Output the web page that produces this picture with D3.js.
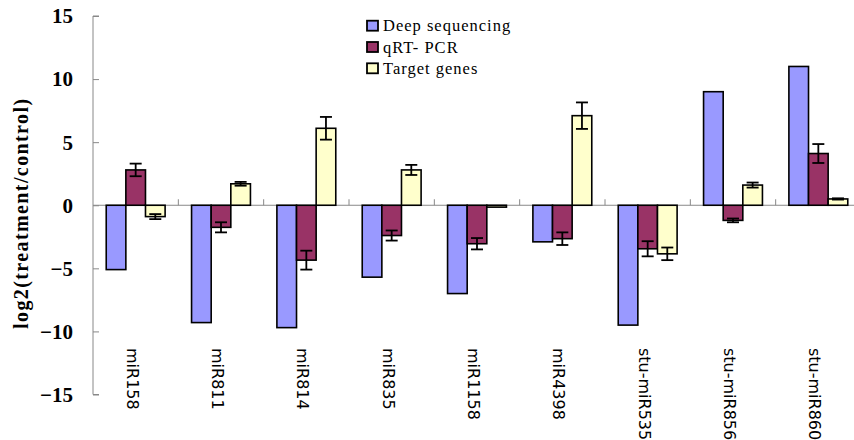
<!DOCTYPE html>
<html>
<head>
<meta charset="utf-8">
<script src="https://cdn.jsdelivr.net/npm/d3@7"></script>
<style>
	body { margin: 0; background: #fff; }
	svg { display: block; }
</style>
</head>
<body>
<svg id="chart" width="854" height="440"></svg>
<script>
const categories = ['miR158', 'miR811', 'miR814', 'miR835', 'miR1158', 'miR4398', 'stu-miR535', 'stu-miR856', 'stu-miR860']
const seriesNames = ['Deep sequencing', 'qRT- PCR', 'Target genes']
const deepSeq = [-5.1, -9.3, -9.7, -5.7, -7.0, -2.9, -9.5, 9.0, 11.0]
const qrtPcr = [2.8, -1.75, -4.35, -2.4, -3.05, -2.65, -3.45, -1.2, 4.1]
const qrtPcrErr = [0.5, 0.4, 0.75, 0.4, 0.45, 0.5, 0.6, 0.15, 0.75]
const targetGenes = [-0.9, 1.7, 6.1, 2.8, -0.15, 7.1, -3.85, 1.6, 0.5]
const targetErr = [0.2, 0.15, 0.9, 0.4, 0, 1.05, 0.5, 0.2, 0.05]
const yTicks = [-15, -10, -5, 0, 5, 10, 15]
const colors = ['#9999ff', '#993366', '#ffffcc']

const svg = d3.select('#chart')
const plotLeft = 93, plotRight = 861, plotTop = 16, plotBottom = 394.5

const x0 = d3.scaleBand().domain(categories).range([plotLeft, plotRight]).paddingInner(0.31).paddingOuter(0.155)
const x1 = d3.scaleBand().domain(seriesNames).range([0, x0.bandwidth()])
const y = d3.scaleLinear().domain([-15, 15]).range([plotBottom, plotTop])

const rows = categories.map((c, i) => ({
	cat: c,
	vals: [
		{ s: seriesNames[0], v: deepSeq[i], e: null },
		{ s: seriesNames[1], v: qrtPcr[i], e: qrtPcrErr[i] },
		{ s: seriesNames[2], v: targetGenes[i], e: targetErr[i] }
	]
}))

// y axis: ticks point into the plot
const yAxis = svg.append('g')
	.attr('transform', `translate(${plotLeft},0)`)
	.call(d3.axisRight(y).tickValues(yTicks).tickSize(6).tickFormat(''))
yAxis.select('.domain').attr('stroke', '#888').attr('d', `M6,${plotTop}H0V${plotBottom}H6`)
yAxis.selectAll('.tick line').attr('stroke', '#888')

svg.append('g').selectAll('text').data(yTicks).enter().append('text')
	.attr('x', 73).attr('y', d => y(d)).attr('dy', '0.35em')
	.attr('text-anchor', 'end')
	.style('font-family', '"Liberation Serif", serif').style('font-weight', 'bold').style('font-size', '21px')
	.text(d => d < 0 ? '\u2212' + Math.abs(d) : d)

svg.append('text')
	.attr('transform', `translate(28,${(plotTop + plotBottom) / 2 + 8}) rotate(-90)`)
	.attr('text-anchor', 'middle')
	.style('font-family', '"Liberation Serif", serif').style('font-weight', 'bold').style('font-size', '20px')
	.style('letter-spacing', '1.4px')
	.text('log2(treatment/control)')

// zero line with category ticks
svg.append('line').attr('x1', plotLeft).attr('x2', 854).attr('y1', y(0)).attr('y2', y(0)).attr('stroke', '#888')
const step = x0.step()
svg.append('g').selectAll('line').data(categories.slice(1)).enter().append('line')
	.attr('x1', d => x0(d) - x0.paddingInner() * step / 2)
	.attr('x2', d => x0(d) - x0.paddingInner() * step / 2)
	.attr('y1', y(0)).attr('y2', y(0) - 6).attr('stroke', '#888')

// bars
const groups = svg.append('g').selectAll('g').data(rows).enter().append('g')
	.attr('transform', d => `translate(${x0(d.cat)},0)`)

groups.selectAll('rect').data(d => d.vals).enter().append('rect')
	.attr('x', d => x1(d.s))
	.attr('width', x1.bandwidth())
	.attr('y', d => y(Math.max(0, d.v)))
	.attr('height', d => Math.abs(y(d.v) - y(0)))
	.attr('fill', (d, i) => colors[i])
	.attr('stroke', '#000').attr('stroke-width', 1.6)

// error bars
const errs = groups.selectAll('g.err').data(d => d.vals.filter(v => v.e)).enter().append('g').attr('class', 'err')
	.attr('stroke', '#000').attr('stroke-width', 1.8)
errs.append('line')
	.attr('x1', d => x1(d.s) + x1.bandwidth() / 2).attr('x2', d => x1(d.s) + x1.bandwidth() / 2)
	.attr('y1', d => y(d.v - d.e)).attr('y2', d => y(d.v + d.e))
errs.selectAll('line.cap').data(d => [d.v - d.e, d.v + d.e].map(v => ({ s: d.s, v }))).enter().append('line')
	.attr('class', 'cap')
	.attr('x1', d => x1(d.s) + x1.bandwidth() / 2 - 6).attr('x2', d => x1(d.s) + x1.bandwidth() / 2 + 6)
	.attr('y1', d => y(d.v)).attr('y2', d => y(d.v))

// category labels
svg.append('g').selectAll('text').data(categories).enter().append('text')
	.attr('transform', d => `translate(${x0(d) + x0.bandwidth() / 2 - 9},348) rotate(90)`)
	.style('font-family', '"DejaVu Sans", sans-serif').style('font-size', '16px')
	.text(d => d)

// legend
const legend = svg.append('g').selectAll('g').data(seriesNames).enter().append('g')
	.attr('transform', (d, i) => `translate(367,${25.7 + i * 21.3})`)
legend.append('rect').attr('x', 0).attr('y', -5).attr('width', 11).attr('height', 10)
	.attr('fill', (d, i) => colors[i]).attr('stroke', '#000').attr('stroke-width', 1.8)
legend.append('text').attr('x', 16).attr('y', 0).attr('dy', '0.35em')
	.style('font-family', '"Liberation Serif", serif').style('font-size', '16.5px').style('letter-spacing', '1px')
	.text(d => d)
</script>
</body>
</html>
